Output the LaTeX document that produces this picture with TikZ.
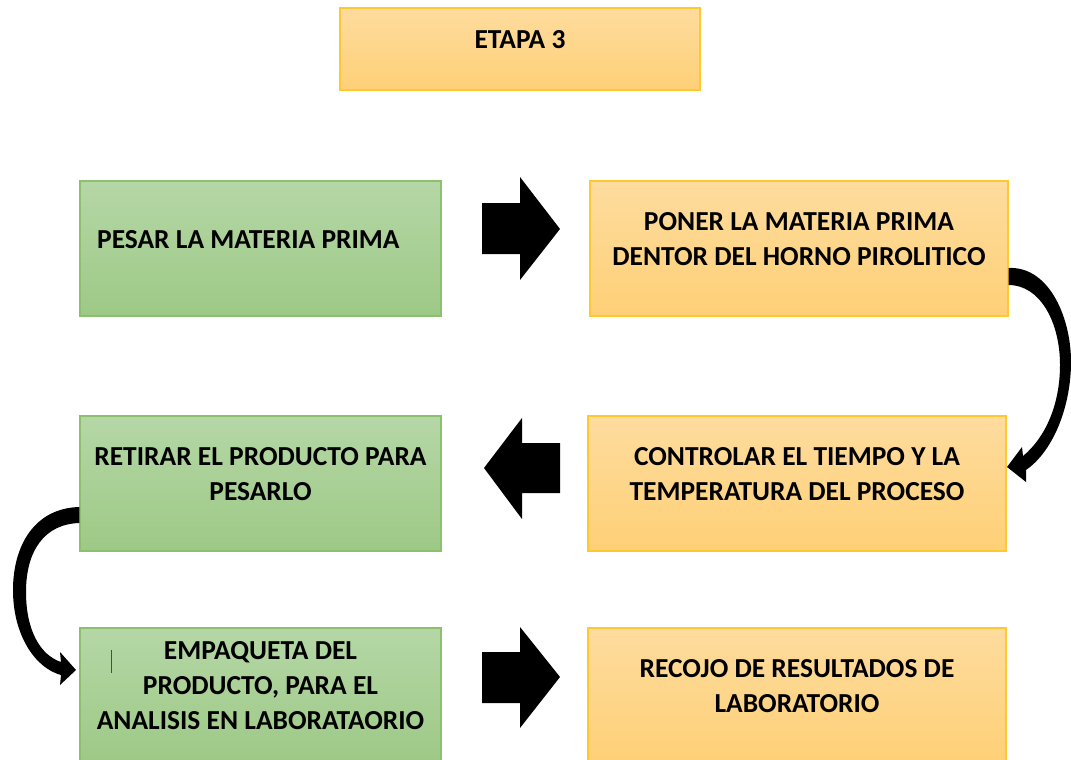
\documentclass[tikz,border=0pt]{standalone}
\usepackage{fontspec}
\setmainfont{Carlito}
\usepackage{tikz}
\usetikzlibrary{positioning}

\definecolor{grtop}{HTML}{B5D7A6}
\definecolor{grbot}{HTML}{9DC986}
\definecolor{grline}{HTML}{8CC06E}
\definecolor{ortop}{HTML}{FEDC9E}
\definecolor{orbot}{HTML}{FED077}
\definecolor{orline}{HTML}{FFC830}

\tikzset{
	greenbox/.style={rectangle,draw=grline,line width=0.9pt,top color=grtop,bottom color=grbot,
		font=\fontsize{20.6}{26.3}\selectfont\bfseries,align=center,inner sep=0pt,
		execute at end node={\rule[-14pt]{0pt}{0pt}}},
	orangebox/.style={rectangle,draw=orline,line width=0.9pt,top color=ortop,bottom color=orbot,
		font=\fontsize{20.6}{26.3}\selectfont\bfseries,align=center,inner sep=0pt,
		execute at end node={\rule[-14pt]{0pt}{0pt}}},
	blockarrow/.style={fill=black},
	bentarrow/.style={fill=black}
}

\begin{document}
\begin{tikzpicture}[x=0.75pt,y=-0.75pt]
\useasboundingbox (0,0) rectangle (1071,760);
% titulo
\node[orangebox,minimum width=270pt,minimum height=61.5pt] (etapa) at (520,49) {ETAPA 3};
% fila 1
\node[greenbox,minimum width=270.75pt,minimum height=101.25pt,align=flush left,text width=245pt,inner xsep=12.75pt] (pesar) at (260.5,248.5) {PESAR LA MATERIA PRIMA};
\node[orangebox,minimum width=313.5pt,minimum height=101.25pt] (poner) at (799,248.5) {PONER LA MATERIA PRIMA\\DENTOR DEL HORNO PIROLITICO};
% fila 2
\node[greenbox,minimum width=270.75pt,minimum height=101.25pt] (retirar) at (260.5,483.5) {RETIRAR EL PRODUCTO PARA\\PESARLO};
\node[orangebox,minimum width=313.5pt,minimum height=101.25pt] (controlar) at (797,483.5) {CONTROLAR EL TIEMPO Y LA\\TEMPERATURA DEL PROCESO};
% fila 3
\node[greenbox,minimum width=270.75pt,minimum height=100.5pt] (empaqueta) at (260.5,695) {EMPAQUETA DEL\\PRODUCTO, PARA EL\\ANALISIS EN LABORATAORIO};
\node[orangebox,minimum width=313.5pt,minimum height=100.5pt] (recojo) at (797,695) {RECOJO DE RESULTADOS DE\\LABORATORIO};
\draw[black!70,line width=0.6pt] (111,650) -- (111,673);

% flechas de bloque
\fill[blockarrow] (482,203) -- (520,203) -- (520,177) -- (560,229) -- (520,280) -- (520,254) -- (482,254) -- cycle;
\fill[blockarrow] (560,443) -- (522,443) -- (522,418) -- (484,468) -- (522,519) -- (522,493) -- (560,493) -- cycle;
\fill[blockarrow] (482,652) -- (520,652) -- (520,627) -- (560,677) -- (520,728) -- (520,703) -- (482,703) -- cycle;

% flechas curvas
\fill[bentarrow] (poner.east |- 0,268) .. controls (1050,266) and (1072,320) .. (1071,365)
	.. controls (1070,410) and (1052,452) .. (1026,470) -- (1026,482) -- (1007,467) -- (1022,447)
	-- (1023,456) .. controls (1045,438) and (1060,405) .. (1060,365)
	.. controls (1060,322) and (1040,285) .. (poner.east |- 0,285) -- cycle;
\fill[bentarrow] (retirar.west |- 0,507) .. controls (35,508) and (13,545) .. (13,590)
	.. controls (13,635) and (35,668) .. (61,675) -- (60,685) -- (76,670) -- (60,652)
	-- (61,662) .. controls (40,655) and (26,630) .. (26,592)
	.. controls (26,550) and (45,524) .. (retirar.west |- 0,523) -- cycle;
\end{tikzpicture}
\end{document}
